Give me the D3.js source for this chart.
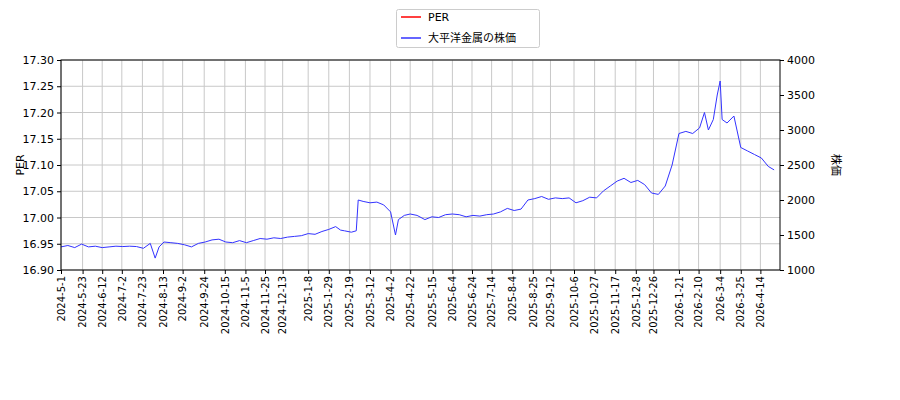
<!DOCTYPE html>
<html><head><meta charset="utf-8">
<script src="https://cdn.jsdelivr.net/npm/d3@7"></script>
<style>body{margin:0;background:#fff}text{font-family:"DejaVu Sans",sans-serif}</style>
</head><body><svg id="c" width="900" height="400"></svg>
<script>
var tickDates = ["2024-5-1","2024-5-23","2024-6-12","2024-7-2","2024-7-23","2024-8-13","2024-9-2","2024-9-24","2024-10-15","2024-11-5","2024-11-25","2024-12-13","2025-1-8","2025-1-29","2025-2-19","2025-3-12","2025-4-2","2025-4-22","2025-5-15","2025-6-4","2025-6-24","2025-7-14","2025-8-4","2025-8-25","2025-9-12","2025-10-6","2025-10-27","2025-11-17","2025-12-8","2025-12-26","2026-1-21","2026-2-10","2026-3-4","2026-3-25","2026-4-14"];
var perTicks = [16.90,16.95,17.00,17.05,17.10,17.15,17.20,17.25,17.30];
var priceTicks = [1000,1500,2000,2500,3000,3500,4000];
var priceDates = ["2024-05-01","2024-05-08","2024-05-15","2024-05-22","2024-05-29","2024-06-05","2024-06-12","2024-06-19","2024-06-26","2024-07-03","2024-07-10","2024-07-17","2024-07-24","2024-07-31","2024-08-05","2024-08-09","2024-08-14","2024-08-21","2024-08-28","2024-09-04","2024-09-11","2024-09-18","2024-09-25","2024-10-02","2024-10-09","2024-10-16","2024-10-23","2024-10-30","2024-11-06","2024-11-13","2024-11-20","2024-11-27","2024-12-04","2024-12-11","2024-12-18","2024-12-25","2025-01-01","2025-01-08","2025-01-15","2025-01-22","2025-01-29","2025-02-05","2025-02-10","2025-02-14","2025-02-21","2025-02-26","2025-02-28","2025-03-05","2025-03-12","2025-03-19","2025-03-26","2025-04-02","2025-04-07","2025-04-10","2025-04-16","2025-04-22","2025-04-29","2025-05-07","2025-05-14","2025-05-21","2025-05-28","2025-06-04","2025-06-11","2025-06-18","2025-06-25","2025-07-02","2025-07-09","2025-07-16","2025-07-23","2025-07-30","2025-08-06","2025-08-13","2025-08-20","2025-08-27","2025-09-03","2025-09-10","2025-09-17","2025-09-24","2025-10-01","2025-10-08","2025-10-15","2025-10-22","2025-10-29","2025-11-05","2025-11-12","2025-11-19","2025-11-26","2025-12-03","2025-12-10","2025-12-17","2025-12-24","2025-12-31","2026-01-07","2026-01-14","2026-01-21","2026-01-28","2026-02-04","2026-02-11","2026-02-16","2026-02-20","2026-02-25","2026-03-01","2026-03-04","2026-03-06","2026-03-11","2026-03-18","2026-03-25","2026-04-01","2026-04-08","2026-04-15","2026-04-22","2026-04-28"];
var priceValues = [1330,1350,1320,1370,1330,1340,1320,1330,1340,1335,1340,1335,1310,1380,1170,1330,1400,1390,1380,1360,1330,1380,1400,1430,1440,1400,1390,1420,1390,1420,1450,1440,1460,1450,1470,1480,1490,1520,1510,1550,1580,1620,1570,1560,1540,1560,2000,1980,1960,1970,1930,1830,1500,1720,1780,1800,1780,1720,1760,1750,1790,1800,1790,1760,1780,1770,1790,1800,1830,1880,1850,1870,2000,2020,2050,2010,2030,2020,2030,1960,1990,2040,2030,2130,2200,2270,2310,2250,2280,2220,2100,2080,2200,2500,2950,2980,2950,3030,3250,3000,3150,3500,3700,3150,3100,3200,2750,2700,2650,2600,2480,2430];

var parse = d3.timeParse("%Y-%m-%d");
var svg = d3.select("#c");
var L = 61, R = 780, T = 60, B = 270;
var x = d3.scaleTime().domain([parse("2024-05-01"), parse("2026-05-04")]).range([L, R]);
var yl = d3.scaleLinear().domain([16.90, 17.30]).range([B, T]);
var yr = d3.scaleLinear().domain([1000, 4000]).range([B, T]);
var ticks = tickDates.map(function(s){ var p = s.split("-"); return new Date(+p[0], p[1]-1, +p[2]); });

var grid = svg.append("g").attr("stroke", "#c8c8c8").attr("stroke-width", 1);
ticks.forEach(function(d){ grid.append("line").attr("x1", x(d)).attr("x2", x(d)).attr("y1", T).attr("y2", B); });
perTicks.forEach(function(v){ grid.append("line").attr("x1", L).attr("x2", R).attr("y1", yl(v)).attr("y2", yl(v)); });

var line = d3.line().x(function(d, i){ return x(parse(priceDates[i])); }).y(function(d){ return yr(d); });
svg.append("path").datum(priceValues).attr("d", line).attr("fill", "none").attr("stroke", "#3333ff").attr("stroke-width", 1);

svg.append("rect").attr("x", L).attr("y", T).attr("width", R-L).attr("height", B-T).attr("fill", "none").attr("stroke", "#000");

var ax = svg.append("g").attr("transform", "translate(0," + B + ")")
  .call(d3.axisBottom(x).tickValues(ticks).tickFormat(function(d, i){ return tickDates[i]; }).tickSize(4).tickSizeOuter(0));
ax.select(".domain").remove();
ax.selectAll(".tick text").attr("x", 0).attr("y", 0).attr("text-anchor", "end")
  .attr("transform", "translate(0,6) rotate(-90)").attr("dy", "0.32em").attr("dx", 0)
  .style("font-size", "10px").style("font-family", "DejaVu Sans");

var al = svg.append("g").attr("transform", "translate(" + L + ",0)")
  .call(d3.axisLeft(yl).tickValues(perTicks).tickFormat(d3.format(".2f")).tickSize(4).tickSizeOuter(0));
al.select(".domain").remove();
al.selectAll("text").style("font-size", "11px").style("font-family", "DejaVu Sans");
var ar = svg.append("g").attr("transform", "translate(" + R + ",0)")
  .call(d3.axisRight(yr).tickValues(priceTicks).tickFormat(d3.format("d")).tickSize(4).tickSizeOuter(0));
ar.select(".domain").remove();
ar.selectAll("text").style("font-size", "11px").style("font-family", "DejaVu Sans");

svg.append("text").attr("transform", "translate(24,165) rotate(-90)").attr("text-anchor", "middle").style("font-size", "11px").text("PER");
svg.append("text").attr("transform", "translate(832,165) rotate(90)").attr("text-anchor", "middle").style("font-size", "11px").style("font-family", "Noto Sans CJK JP").text("株価");

var lg = svg.append("g");
lg.append("rect").attr("x", 396.5).attr("y", 9.5).attr("width", 143).attr("height", 38).attr("fill", "#fff").attr("stroke", "#ccc").attr("rx", 2);
lg.append("line").attr("x1", 401).attr("x2", 421).attr("y1", 17).attr("y2", 17).attr("stroke", "#ff0000").attr("stroke-width", 1.5);
lg.append("text").attr("x", 428).attr("y", 21).style("font-size", "11px").text("PER");
lg.append("line").attr("x1", 401).attr("x2", 421).attr("y1", 38).attr("y2", 38).attr("stroke", "#3333ff").attr("stroke-width", 1.5);
lg.append("text").attr("x", 428).attr("y", 42).style("font-size", "11px").style("font-family", "Noto Sans CJK JP").text("大平洋金属の株価");
</script></body></html>
